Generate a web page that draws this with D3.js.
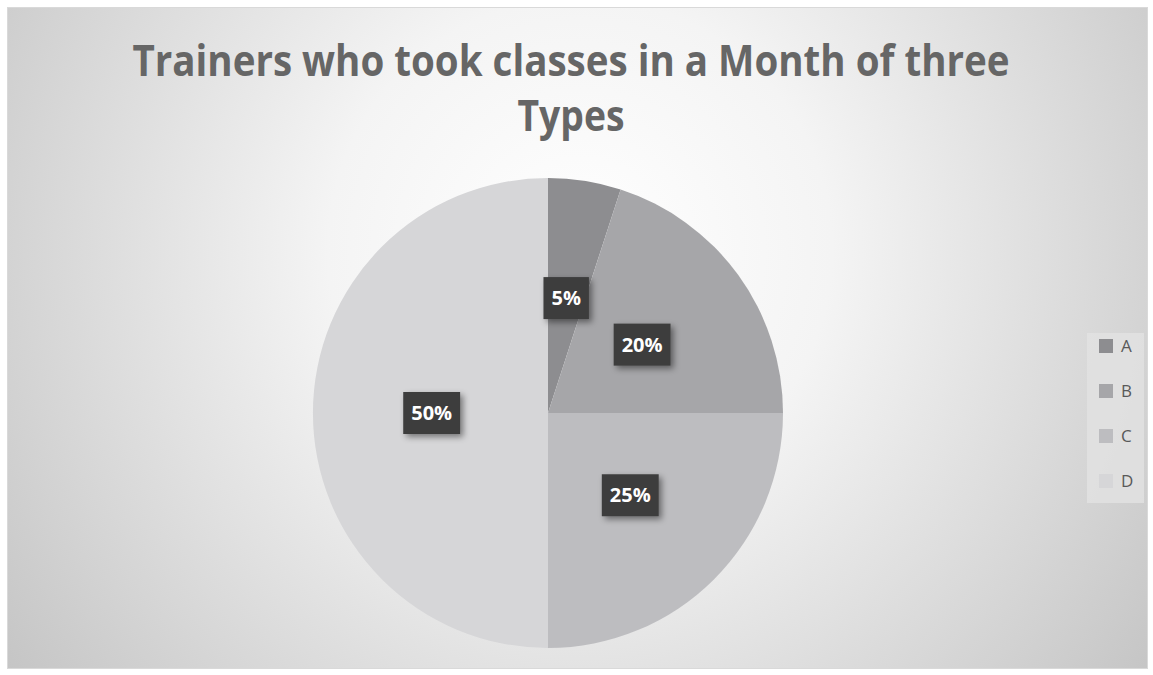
<!DOCTYPE html>
<html>
<head>
<meta charset="utf-8">
<script src="https://cdn.jsdelivr.net/npm/d3@7"></script>
<style>
  body { margin: 0; background: #fff; }
  svg { display: block; }
</style>
</head>
<body>
<svg id="chart" width="1153" height="675"></svg>
<script>
// data
const categories = ["A", "B", "C", "D"];
const values = [5, 20, 25, 50];
const sliceColors = ["#8d8d90", "#a6a6a9", "#bdbdc0", "#d6d6d8"];
const titleLines = ["Trainers who took classes in a Month of three", "Types"];

const svg = d3.select("#chart");

const defs = svg.append("defs");
const bg = defs.append("radialGradient")
  .attr("id", "bg")
  .attr("gradientUnits", "userSpaceOnUse")
  .attr("cx", 580).attr("cy", 250).attr("r", 720);
bg.append("stop").attr("offset", "0%").attr("stop-color", "#ffffff");
bg.append("stop").attr("offset", "35%").attr("stop-color", "#f4f4f4");
bg.append("stop").attr("offset", "100%").attr("stop-color", "#c4c4c4");

const shadow = defs.append("filter").attr("id", "shadow")
  .attr("x", "-30%").attr("y", "-30%").attr("width", "170%").attr("height", "170%");
shadow.append("feDropShadow")
  .attr("dx", 3).attr("dy", 3).attr("stdDeviation", 3)
  .attr("flood-color", "#000").attr("flood-opacity", 0.45);

// chart area
svg.append("rect")
  .attr("x", 7.5).attr("y", 7.5)
  .attr("width", 1140).attr("height", 661)
  .attr("fill", "url(#bg)")
  .attr("stroke", "#d9d9d9");

// title - Calibri is narrower than Open Sans, so squeeze glyphs to the reference width
const titleW = [877, 107];
titleLines.forEach((t, i) => {
  svg.append("text")
    .attr("x", 571).attr("y", 76 + i * 55)
    .attr("text-anchor", "middle")
    .attr("font-family", "'Open Sans', sans-serif")
    .attr("font-weight", "bold")
    .attr("font-size", 43)
    .attr("fill", "#666666")
    .attr("textLength", titleW[i])
    .attr("lengthAdjust", "spacingAndGlyphs")
    .text(t);
});

// pie
const cx = 548, cy = 413, R = 235;
const pie = d3.pie().sort(null).value(d => d.v);
const arcs = pie(categories.map((c, i) => ({ c: c, v: values[i], col: sliceColors[i] })));
const arc = d3.arc().innerRadius(0).outerRadius(R);
const g = svg.append("g").attr("transform", `translate(${cx},${cy})`);

g.selectAll("path.slice")
  .data(arcs)
  .join("path")
  .attr("class", "slice")
  .attr("d", arc)
  .attr("fill", d => d.data.col);

// data labels
const total = d3.sum(values);
const labelArc = d3.arc().innerRadius(0).outerRadius(R * 0.99);
const lbl = g.selectAll("g.lbl")
  .data(arcs)
  .join("g")
  .attr("class", "lbl")
  .attr("transform", d => `translate(${labelArc.centroid(d)})`);

lbl.each(function(d) {
  const s = d3.select(this);
  const txt = Math.round(d.data.v / total * 100) + "%";
  const t = s.append("text")
    .attr("text-anchor", "middle")
    .attr("dy", "0.36em")
    .attr("font-family", "'Open Sans', sans-serif")
    .attr("font-weight", "bold")
    .attr("font-size", 20)
    .attr("fill", "#ffffff")
    .text(txt);
  const w = t.node().getComputedTextLength() + 16;
  s.insert("rect", "text")
    .attr("x", -w / 2).attr("y", -21)
    .attr("width", w).attr("height", 42)
    .attr("fill", "#3d3d3d")
    .attr("filter", "url(#shadow)");
});

// legend
const legend = svg.append("g").attr("transform", "translate(1087,333)");
legend.append("rect")
  .attr("width", 57).attr("height", 170)
  .attr("fill", "#e2e2e2").attr("opacity", 0.8);
const items = legend.selectAll("g.item")
  .data(categories)
  .join("g")
  .attr("class", "item")
  .attr("transform", (d, i) => `translate(12,${6 + i * 45})`);
items.append("rect")
  .attr("width", 14).attr("height", 14)
  .attr("fill", (d, i) => sliceColors[i]);
items.append("text")
  .attr("x", 22).attr("y", 7).attr("dy", "0.36em")
  .attr("font-family", "'Open Sans', sans-serif")
  .attr("font-size", 17)
  .attr("fill", "#595959")
  .text(d => d);
</script>
</body>
</html>
